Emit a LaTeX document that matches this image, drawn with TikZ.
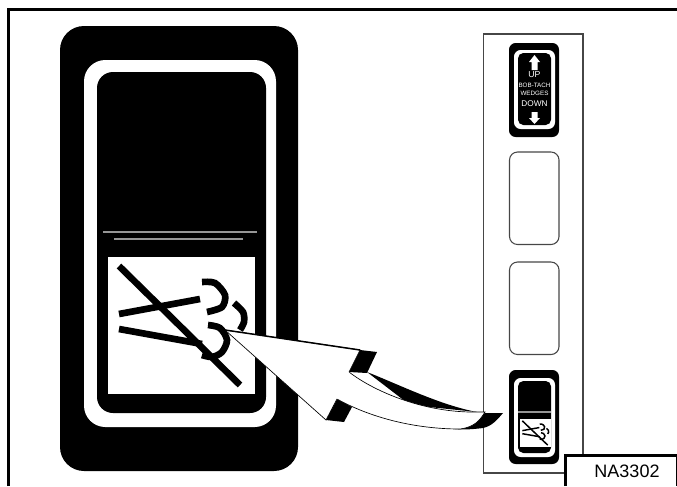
\documentclass[tikz,border=0pt]{standalone}
\usepackage{fontspec}
\setmainfont{Liberation Sans}
\definecolor{mylinegray1}{RGB}{150, 150, 150}
\definecolor{mypanelgray1}{RGB}{70, 70, 70}
\tikzset{
  switchbody/.style={fill=black, rounded corners=#1},
  switchring/.style={fill=white, rounded corners=#1},
  blankslot/.style={draw=mypanelgray1, line width=0.8pt, rounded corners=6pt},
  slotlabel/.style={white, inner sep=0pt},
}
% wiper symbol, drawn from the top left corner of its white panel
\newcommand{\wipersymbol}[5]{
  \begin{scope}[shift={(#1,#2)}, xscale=#3, yscale=#4, line width=#5]
    \draw (11,57) -- (92,42);
    \draw (11,72) -- (94,87);
    \draw (11,9) -- (132,128);
    \draw plot[smooth] coordinates {(94,25) (107,26) (117,38) (114,50) (99,55)};
    \draw plot[smooth] coordinates {(126,46) (135,55) (136,65) (132,73)};
    \draw plot[smooth] coordinates {(100,68) (112,71) (119,83) (114,95) (104,100) (94,98)};
  \end{scope}
}
\begin{document}
\begin{tikzpicture}[x=0.75pt, y=-0.75pt]
\useasboundingbox (0,0) rectangle (677,486);
% Frame
\draw[line width=2.2pt] (8.5,486) -- (8.5,9.5) -- (677,9.5);
% Large switch
\fill[switchbody=18pt] (60,26) rectangle (298,471);
\fill[switchring=16pt] (84,60) rectangle (276,427);
\fill[switchbody=12pt] (97,72) rectangle (266,413);
\draw[mylinegray1, line width=1.6pt] (103,232) -- (257,232);
\draw[mylinegray1, line width=1.6pt] (114,239) -- (243,239);
\fill[white] (108,257) rectangle (255,394);
\wipersymbol{108}{257}{1}{1}{5pt}
% Side panel
\draw[mypanelgray1, line width=0.8pt] (483.5,473) -- (483.5,34) -- (583,34) -- (583,473) -- cycle;
% Upper switch
\fill[switchbody=5pt] (509,43) rectangle (559,137);
\fill[switchring=5pt] (514,50) rectangle (555,129);
\fill[switchbody=4pt] (518,53) rectangle (551,125);
\fill[white] (531.5,70) -- (531.5,62) -- (529,62) -- (534.5,55) -- (540,62) -- (537.5,62) -- (537.5,70) -- cycle;
\fill[white] (531.5,112) -- (531.5,118) -- (529,118) -- (534.5,124) -- (540,118) -- (537.5,118) -- (537.5,112) -- cycle;
\node[slotlabel, font=\fontsize{6.5pt}{7pt}\selectfont] (up) at (534.5,75) {UP};
\node[slotlabel, font=\fontsize{4.7pt}{5pt}\selectfont] (bobtach) at (534.5,85) {BOB-TACH};
\node[slotlabel, font=\fontsize{4.7pt}{5pt}\selectfont] (wedges) at (534.5,93) {WEDGES};
\node[slotlabel, font=\fontsize{6.2pt}{7pt}\selectfont] (down) at (534.5,104) {DOWN};
% Blank slots
\foreach \y in {152, 262} {
    \draw[blankslot] (509.5,\y) rectangle (559,\y+92.5);
}
% Lower switch
\fill[switchbody=5pt] (509,370) rectangle (559,464);
\fill[switchring=5pt] (514,378) rectangle (555,457);
\fill[switchbody=4pt] (518,381) rectangle (551,453);
\draw[mylinegray1, line width=0.8pt] (518,412) -- (551,412);
\fill[white] (520,419) rectangle (551,447);
\wipersymbol{520}{419}{0.21}{0.204}{1.1pt}
% Callout arrow
\fill (360,350) -- (377,352) -- (367,373) -- (349,372) -- cycle;
\fill (337,399) -- (352,407) -- (344,422) -- (326,420) -- cycle;
\fill (367,372) .. controls (400,385) and (440,405) .. (477,412) -- (410,405) -- cycle;
\fill (485,413) -- (503,413) .. controls (497,420) and (492,426) .. (483,428) .. controls (475,429) and (465,430) .. (455,429) -- cycle;
\draw[fill=white, line width=0.5pt] (225,330) -- (360,350) -- (349,372)
    .. controls (375,392) and (425,413) .. (477,412) -- (485,412)
    .. controls (480,420) and (475,427) .. (460,429)
    .. controls (420,429) and (375,420) .. (337,399) -- (326,420) -- cycle;
\draw[line width=1.1pt] (225,330) -- (360,350);
\draw[white, line width=0.5pt] (349,372) -- (337,399);
% Part number
\draw[fill=white, line width=1.8pt] (565.5,486) -- (565.5,455.5) -- (677,455.5) -- (677,486);
\node[font=\fontsize{13.5pt}{15pt}\selectfont, inner sep=0pt] (partno) at (627,471.5) {NA3302};
\end{tikzpicture}
\end{document}
